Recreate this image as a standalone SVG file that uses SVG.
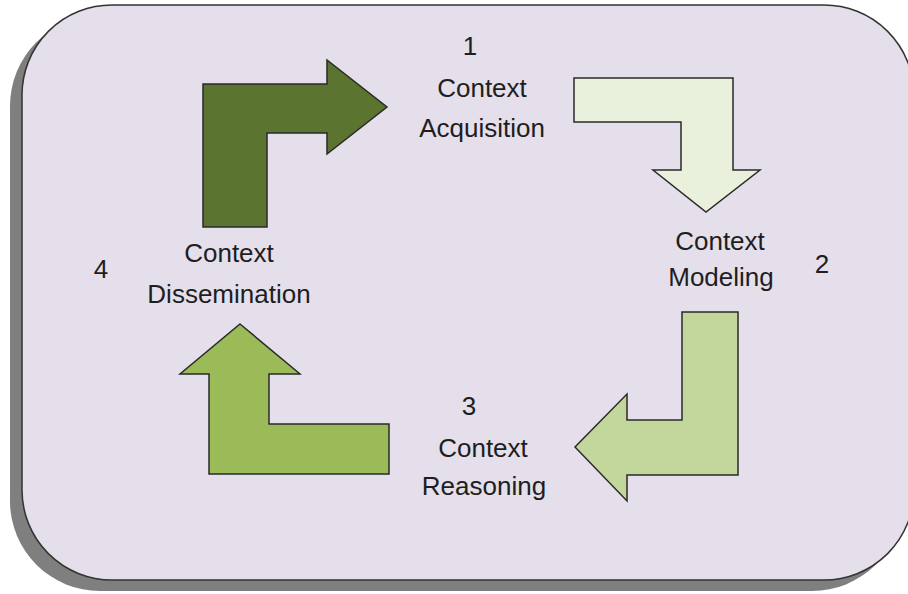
<svg xmlns="http://www.w3.org/2000/svg" width="908" height="594" viewBox="0 0 908 594">
  <style>
    .lbl { font-family: "Liberation Sans", Arial, sans-serif; font-size: 26px; fill: #1e1e1e; text-anchor: middle; }
    .arrow { stroke: #2a2a2a; stroke-width: 1.5; stroke-linejoin: miter; }
  </style>
  <rect width="908" height="594" fill="#ffffff"/>
  <g id="frame">
    <rect x="10" y="16" width="892" height="575" rx="90" ry="90" fill="#7f7f7f"/>
    <rect x="22" y="5" width="892" height="575" rx="90" ry="90" fill="#e4dfeb" stroke="#333333" stroke-width="1.5"/>
  </g>
  <g id="connectors">
    <polygon id="arrow-1" class="arrow" fill="#5b7430" points="203,84 327,84 327,60 387,107 327,154 327,133 267,133 267,227 203,227"/>
    <polygon id="arrow-2" class="arrow" fill="#e9f0dc" points="574,78 733,78 733,170 760,170 706,212 653,170 681,170 681,122 574,122"/>
    <polygon id="arrow-3" class="arrow" fill="#c3d69b" points="682,312 738,312 738,475 627,475 627,501 575,447 627,394 627,420 682,420"/>
    <polygon id="arrow-4" class="arrow" fill="#9bbb59" points="240,324 300,374 269,374 269,424 389,424 389,474 209,474 209,374 180,374"/>
  </g>
  <g id="node-1">
    <text class="lbl" x="470" y="55">1</text>
    <text class="lbl" x="482" y="97">Context</text>
    <text class="lbl" x="482" y="137">Acquisition</text>
  </g>
  <g id="node-2">
    <text class="lbl" x="720" y="250">Context</text>
    <text class="lbl" x="721" y="286">Modeling</text>
    <text class="lbl" x="822" y="273">2</text>
  </g>
  <g id="node-3">
    <text class="lbl" x="469" y="415">3</text>
    <text class="lbl" x="483" y="457">Context</text>
    <text class="lbl" x="484" y="495">Reasoning</text>
  </g>
  <g id="node-4">
    <text class="lbl" x="101" y="278">4</text>
    <text class="lbl" x="229" y="262">Context</text>
    <text class="lbl" x="229" y="303">Dissemination</text>
  </g>
</svg>
